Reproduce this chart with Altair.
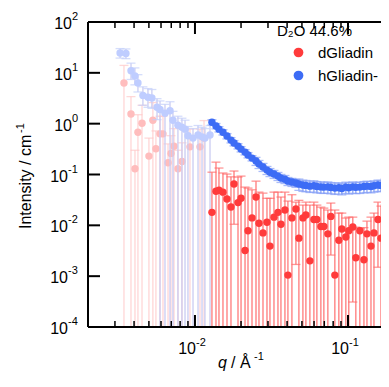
import altair as alt
import pandas as pd

# ---------------- data ----------------
# hGliadin, low-q (faded) part
hq_low = [0.00324, 0.00354, 0.00382, 0.00405, 0.00424, 0.00457, 0.00493, 0.00523, 0.00565, 0.00591,
          0.00637, 0.00687, 0.00718, 0.00774, 0.00822, 0.00861, 0.00900, 0.00971, 0.01047, 0.01112,
          0.01162, 0.01254]
hI_low = [24.5, 24.0, 11.0, 8.7, 6.3, 3.6, 3.3, 3.2, 2.1, 1.9, 1.6, 1.8, 1.17, 0.93, 0.85, 0.78,
          0.58, 0.52, 0.60, 0.55, 0.52, 0.60]
hHi_low = [30.0, 29.5, 15.5, 12.5, 9.2, 5.3, 4.9, 4.7, 3.1, 2.8, 2.4, 2.7, 1.75, 1.40, 1.28, 1.17,
           0.88, 0.80, 0.92, 0.85, 0.80, 0.92]
hLo_low = [19.5, 19.0, 7.4, 5.8, 4.2, 2.3, 2.1, 2.0, 1.2, 0, 0, 0, 0, 0, 0, 0, 0, 0, 0, 0, 0, 0]

# dGliadin, low-q (faded) part
dq_low = [0.003436, 0.003818, 0.004055, 0.004240, 0.004508, 0.005003, 0.005309, 0.005557, 0.005907,
          0.006180, 0.006668, 0.006972, 0.007295, 0.007747, 0.008228, 0.009275, 0.01078, 0.01146]
dI_low = [6.3, 1.55, 0.13, 0.68, 1.02, 0.23, 1.17, 0.32, 0.63, 0.63, 0.17, 0.26, 0.36, 0.13, 0.18,
          0.35, 0.35, 0.52]
dHi_low = [14.0, 3.4, 0.30, 1.5, 2.3, 0.52, 2.6, 0.72, 1.4, 1.4, 0.40, 0.58, 0.80, 0.30, 0.42,
           0.78, 0.78, 1.15]
dLo_low = [0] * 18

# high-q part (shared q grid)
q_high = [0.01291, 0.01372, 0.01435, 0.01524, 0.01619, 0.01719, 0.01799, 0.01911, 0.02000, 0.02124,
          0.02221, 0.02359, 0.02505, 0.02620, 0.02783, 0.02955, 0.03091, 0.03283, 0.03486, 0.03646,
          0.03872, 0.04050, 0.04301, 0.04568, 0.04777, 0.05074, 0.05307, 0.05636, 0.05986, 0.06261,
          0.06649, 0.06955, 0.07386, 0.07726, 0.08205, 0.08714, 0.09114, 0.0968, 0.1012, 0.1075,
          0.1125, 0.1195, 0.1271, 0.1330, 0.1413, 0.1478, 0.1570, 0.1642, 0.1744]
dI_high = [0.018, 0.047, 0.049, 0.045, 0.033, 0.023, 0.065, 0.028, 0.034, 0.0032, 0.0078, 0.014,
           0.036, 0.011, 0.0071, 0.0115, 0.0039, 0.0145, 0.018, 0.0105, 0.020, 0.00105, 0.014, 0.021,
           0.0056, 0.014, 0.016, 0.0020, 0.013, 0.013, 0.0095, 0.0095, 0.0068, 0.015, 0.00105, 0.0051,
           0.0085, 0.0059, 0.0078, 0.0093, 0.0023, 0.0078, 0.0021, 0.0068, 0.0039, 0.0071, 0.013,
           0.0056, 0.013]
dHi_high = [0.111, 0.175, 0.134, 0.107, 0.102, 0.090, 0.117, 0.089, 0.093, 0.0565, 0.054, 0.050,
            0.074, 0.045, 0.043, 0.034, 0.034, 0.045, 0.045, 0.036, 0.045, 0.030, 0.040, 0.0286,
            0.031, 0.025, 0.0286, 0.025, 0.0286, 0.025, 0.0228, 0.0218, 0.020, 0.0274, 0.020, 0.0174,
            0.0174, 0.0139, 0.0145, 0.0145, 0.0092, 0.0088, 0.009, 0.0121, 0.0145, 0.0174, 0.0286,
            0.0239, 0.025]
dLo_high = [0, 0, 0, 0, 0, 0, 0.0105, 0, 0, 0, 0, 0, 0, 0, 0, 0, 0, 0, 0, 0, 0, 0, 0, 0.0017,
            0, 0, 0, 0, 0, 0, 0, 0, 0, 0.0026, 0, 0, 0, 0, 0, 0.00031, 0, 0, 0, 0, 0, 0, 0.0015, 0, 0]
hI_high = [1.07, 0.90, 0.78, 0.68, 0.57, 0.475, 0.415, 0.362, 0.316, 0.276, 0.241, 0.210, 0.184,
           0.160, 0.140, 0.122, 0.111, 0.102, 0.093, 0.085, 0.081, 0.074, 0.071, 0.068, 0.065, 0.062,
           0.061, 0.059, 0.060, 0.058, 0.057, 0.0565, 0.057, 0.0555, 0.054, 0.055, 0.053, 0.0565,
           0.055, 0.057, 0.056, 0.0565, 0.058, 0.059, 0.058, 0.060, 0.062, 0.061, 0.065]
hErr_high = [0.12] * 12 + [0.18] * 12 + [0.25] * 25   # relative error

series_names = ["dGliadin", "hGliadin-"]
legend_title = "D₂O 44.6%"

x_major = [0.01, 0.1]
x_major_exp = ["-2", "-1"]
x_minor = [0.002, 0.003, 0.004, 0.005, 0.006, 0.007, 0.008, 0.009,
           0.02, 0.03, 0.04, 0.05, 0.06, 0.07, 0.08, 0.09]
y_major = [1e-4, 1e-3, 1e-2, 1e-1, 1.0, 10.0, 100.0]
y_major_exp = ["-4", "-3", "-2", "-1", "0", "1", "2"]

# ---------------- tables ----------------
def table(q, I, hi, lo, name):
    return pd.DataFrame({"q": q, "I": I, "hi": hi, "lo": lo, "series": name})

d_low = table(dq_low, dI_low, dHi_low, dLo_low, series_names[0])
h_low = table(hq_low, hI_low, hHi_low, hLo_low, series_names[1])
d_high = table(q_high, dI_high, dHi_high, dLo_high, series_names[0])
h_high = table(q_high, hI_high,
               [v * (1 + e) for v, e in zip(hI_high, hErr_high)],
               [v * (1 - e) for v, e in zip(hI_high, hErr_high)], series_names[1])

# the frame continues past the right edge of the picture; only its visible part is drawn
W, H = 293, 305
FONT = "Liberation Sans"
xs = alt.Scale(type="log", domain=[0.002, 0.1643], nice=False)
ys = alt.Scale(type="log", domain=[1e-4, 100], nice=False)
X = alt.X("q:Q", scale=xs, axis=None)

color_scale = alt.Scale(domain=series_names, range=["#FF3B3B", "#3D6CF5"])


def series_layers(df, pt_color, err_color, cap_color, legend=False):
    base = alt.Chart(df).transform_calculate(lo2="datum.lo > 0 ? datum.lo : 1e-7")
    rules = base.mark_rule(clip=True, color=err_color, strokeWidth=1.3).encode(
        x=X, y=alt.Y("lo2:Q", scale=ys, axis=None), y2="hi:Q")
    caps_hi = base.mark_tick(orient="horizontal", size=9, thickness=1.3, color=cap_color,
                             clip=True).encode(x=X, y=alt.Y("hi:Q", scale=ys, axis=None))
    caps_lo = base.transform_filter("datum.lo > 0").mark_tick(
        orient="horizontal", size=9, thickness=1.3, color=cap_color, clip=True).encode(
        x=X, y=alt.Y("lo:Q", scale=ys, axis=None))
    if legend:
        pts = base.mark_circle(size=55, opacity=1, clip=True).encode(
            x=X, y=alt.Y("I:Q", scale=ys, axis=None),
            color=alt.Color("series:N", scale=color_scale, legend=alt.Legend(
                title=legend_title, orient="none", legendX=189, legendY=2,
                titleFont=FONT, titleFontSize=15, titleFontWeight="normal", titleColor="black",
                labelFont=FONT, labelFontSize=15, labelColor="black",
                symbolType="circle", symbolSize=95, symbolOpacity=1, symbolStrokeWidth=0,
                symbolOffset=14, labelOffset=12, rowPadding=7, titlePadding=6, padding=0)))
    else:
        pts = base.mark_circle(size=55, opacity=1, color=pt_color, clip=True).encode(
            x=X, y=alt.Y("I:Q", scale=ys, axis=None))
    return [rules, caps_hi, caps_lo, pts]


layers = []
layers += series_layers(d_low, "#FFBDBD", "#FFD6D6", "#FFC8C8")
layers += series_layers(h_low, "#BFCDFF", "#CACCF2", "#C3CFFA")
layers += series_layers(d_high, None, "#FF7A7A", "#FF6B6B", legend=True)
layers += series_layers(h_high, None, "#8EA8F7", "#86A0F6", legend=True)

# ---------------- frame (left, top, bottom) ----------------
one = pd.DataFrame({"t": ["x"]})
layers.append(alt.Chart(one).mark_rule(color="black", strokeWidth=2).encode(
    x=alt.value(0), y=alt.value(0), y2=alt.value(H)))
layers.append(alt.Chart(one).mark_rule(color="black", strokeWidth=2).encode(
    x=alt.value(0), x2=alt.value(W + 5), y=alt.value(0)))
layers.append(alt.Chart(one).mark_rule(color="black", strokeWidth=2).encode(
    x=alt.value(0), x2=alt.value(W + 5), y=alt.value(H)))

# ---------------- ticks (inside the frame) ----------------
xmaj = pd.DataFrame({"v": x_major, "e": x_major_exp})
xmin = pd.DataFrame({"v": x_minor})
ymaj = pd.DataFrame({"v": y_major, "e": y_major_exp})
XV = alt.X("v:Q", scale=xs, axis=None)
YV = alt.Y("v:Q", scale=ys, axis=None)

for (y0, y1) in [(H, H - 12), (0, 12)]:
    layers.append(alt.Chart(xmaj).mark_rule(color="black", strokeWidth=2).encode(
        x=XV, y=alt.value(y0), y2=alt.value(y1)))
for (y0, y1) in [(H, H - 6), (0, 6)]:
    layers.append(alt.Chart(xmin).mark_rule(color="black", strokeWidth=1.5).encode(
        x=XV, y=alt.value(y0), y2=alt.value(y1)))
layers.append(alt.Chart(ymaj).mark_rule(color="black", strokeWidth=2).encode(
    y=YV, x=alt.value(0), x2=alt.value(12)))

# ---------------- tick labels ----------------
layers.append(alt.Chart(xmaj).mark_text(font=FONT, fontSize=16, align="right", baseline="middle",
                                        dx=1, color="black").encode(
    x=XV, y=alt.value(H + 22), text=alt.value("10")))
layers.append(alt.Chart(xmaj).mark_text(font=FONT, fontSize=11, align="left", baseline="middle",
                                        dx=1, color="black").encode(
    x=XV, y=alt.value(H + 16), text="e:N"))

ypos = ymaj[ymaj["v"] >= 1]
yneg = ymaj[ymaj["v"] < 1]
for df, xten in [(ypos, -16), (yneg, -20)]:
    layers.append(alt.Chart(df).mark_text(font=FONT, fontSize=16, align="right", baseline="middle",
                                          dy=2, color="black").encode(
        y=YV, x=alt.value(xten), text=alt.value("10")))
    layers.append(alt.Chart(df).mark_text(font=FONT, fontSize=11, align="left", baseline="middle",
                                          dy=-5, color="black").encode(
        y=YV, x=alt.value(xten), text="e:N"))

# ---------------- axis titles ----------------
layers.append(alt.Chart(one).mark_text(font=FONT, fontSize=16, angle=270, align="left",
                                       baseline="middle", color="black").encode(
    x=alt.value(-62), y=alt.value(207), text=alt.value("Intensity / cm")))
layers.append(alt.Chart(one).mark_text(font=FONT, fontSize=11, angle=270, align="left",
                                       baseline="middle", color="black").encode(
    x=alt.value(-67), y=alt.value(111), text=alt.value("-1")))
layers.append(alt.Chart(one).mark_text(font=FONT, fontSize=16, fontStyle="italic", align="left",
                                       baseline="alphabetic", color="black").encode(
    x=alt.value(130), y=alt.value(346), text=alt.value("q")))
layers.append(alt.Chart(one).mark_text(font=FONT, fontSize=16, align="left",
                                       baseline="alphabetic", color="black").encode(
    x=alt.value(143), y=alt.value(346), text=alt.value("/ Å")))
layers.append(alt.Chart(one).mark_text(font=FONT, fontSize=11, align="left",
                                       baseline="alphabetic", color="black").encode(
    x=alt.value(166), y=alt.value(338), text=alt.value("-1")))

chart = alt.layer(*layers).properties(
    width=W, height=H,
    autosize=alt.AutoSizeParams(type="none"),
    padding={"left": 80, "top": 14, "right": 0, "bottom": 45},
).configure_view(strokeWidth=0).configure(background="white")

chart.save("out.html", embed_options={"renderer": "svg", "actions": False})
